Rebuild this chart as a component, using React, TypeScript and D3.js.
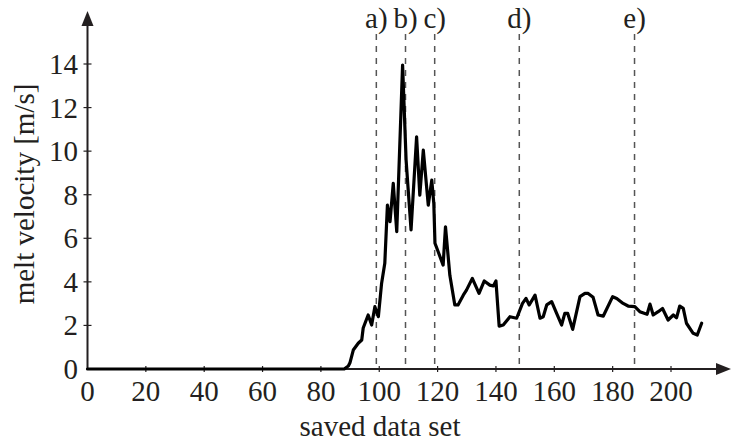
import React from "react";
import * as d3 from "d3";

const xTicks = [0, 20, 40, 60, 80, 100, 120, 140, 160, 180, 200];
const yTicks = [0, 2, 4, 6, 8, 10, 12, 14];
const markerSets = [99, 109, 119, 148, 187.5];
const markerLabels = ["a)", "b)", "c)", "d)", "e)"];

const dataSet = [0, 88, 89.4, 90, 91.1, 92.8, 94, 94.5, 96.2, 97.4, 98.5, 99.7, 100.8, 101.9, 102.8, 103.7, 104.8, 106, 107.1, 108, 109.2, 110.9, 112.8, 113.9, 115.1, 116.8, 118, 118.7, 119.1, 120.2, 121.9, 122.7, 124.2, 125.9, 127, 128.8, 129.9, 131.9, 134.2, 136, 137.9, 139.1, 140, 141.1, 142.5, 144.8, 147.1, 149.1, 150.3, 151.4, 153.4, 155.1, 156.2, 157.4, 159.1, 160.8, 162.5, 163.6, 164.6, 166.3, 168.8, 170.5, 171.6, 173.3, 175, 176.8, 180, 181.4, 183.6, 185.3, 187.6, 189.3, 191.8, 192.8, 193.9, 195.6, 197.1, 199, 200.8, 201.9, 203, 204.2, 205.3, 207.6, 209, 210.5];
const velocity = [0, 0, 0.14, 0.3, 0.87, 1.18, 1.33, 1.88, 2.48, 2.02, 2.86, 2.4, 3.93, 4.85, 7.52, 6.76, 8.52, 6.3, 10.5, 13.95, 9.59, 6.38, 10.66, 7.98, 10.05, 7.52, 8.67, 7.6, 5.77, 5.38, 4.77, 6.53, 4.3, 2.94, 2.94, 3.39, 3.62, 4.16, 3.47, 4.04, 3.85, 3.81, 4.04, 1.97, 2.02, 2.4, 2.33, 3.01, 3.24, 2.94, 3.39, 2.33, 2.4, 2.94, 3.09, 2.55, 2.02, 2.55, 2.55, 1.82, 3.32, 3.47, 3.47, 3.29, 2.48, 2.43, 3.32, 3.24, 3.01, 2.89, 2.86, 2.63, 2.51, 2.98, 2.48, 2.63, 2.78, 2.25, 2.48, 2.35, 2.89, 2.78, 2.1, 1.64, 1.56, 2.1];

const W = 734;
const H = 443;
const ink = "#231f20";
const fontStyle = { fontFamily: "Liberation Serif, Times New Roman, Times, serif" };
const fs = 29;

export default function App() {
  const x = d3.scaleLinear().domain([0, 200]).range([87.5, 671]);
  const y = d3.scaleLinear().domain([0, 14]).range([369, 64]);
  const pts: [number, number][] = dataSet.map((d, i) => [d, velocity[i]]);
  const line = d3
    .line<[number, number]>()
    .x((d) => x(d[0]))
    .y((d) => y(d[1]));
  const x0 = x(0);
  const y0 = y(0);
  return (
    <svg
      width={W}
      height={H}
      style={{ position: "absolute", left: 0, top: 0, background: "#fff", ...fontStyle }}
    >
      {markerSets.map((m, i) => (
        <g key={i}>
          <line
            x1={x(m)}
            x2={x(m)}
            y1={34}
            y2={y0}
            stroke="#555"
            strokeWidth={1.5}
            strokeDasharray="6,6"
          />
          <text x={x(m)} y={28} fontSize={fs} textAnchor="middle" fill={ink} style={fontStyle}>
            {markerLabels[i]}
          </text>
        </g>
      ))}
      <line x1={x0} x2={720} y1={y0} y2={y0} stroke={ink} strokeWidth={2} />
      <path d={`M${731},${y0} L${716},${y0 - 6} L${716},${y0 + 6} Z`} fill={ink} />
      <line x1={x0} x2={x0} y1={y0} y2={22} stroke={ink} strokeWidth={2} />
      <path d={`M${x0},${11} L${x0 - 6},${26} L${x0 + 6},${26} Z`} fill={ink} />
      {xTicks.map((t) => (
        <g key={t}>
          {t !== 0 && (
            <line x1={x(t)} x2={x(t)} y1={y0 - 3} y2={y0 + 3} stroke={ink} strokeWidth={1.2} />
          )}
          <text x={x(t)} y={401} fontSize={fs} textAnchor="middle" fill={ink} style={fontStyle}>
            {t}
          </text>
        </g>
      ))}
      {yTicks.map((t) => (
        <g key={t}>
          {t !== 0 && (
            <line x1={x0 - 4} x2={x0 + 4} y1={y(t)} y2={y(t)} stroke={ink} strokeWidth={1.2} />
          )}
          <text x={78} y={y(t) + 10} fontSize={fs} textAnchor="end" fill={ink} style={fontStyle}>
            {t}
          </text>
        </g>
      ))}
      <text x={380} y={436} fontSize={fs} textAnchor="middle" fill={ink} style={fontStyle}>
        saved data set
      </text>
      <text
        transform={`translate(34,194) rotate(-90)`}
        fontSize={fs}
        textAnchor="middle"
        fill={ink}
        style={fontStyle}
      >
        melt velocity [m/s]
      </text>
      <path
        d={line(pts) || ""}
        fill="none"
        stroke="#000"
        strokeWidth={3.2}
        strokeLinejoin="round"
        strokeLinecap="round"
      />
    </svg>
  );
}
